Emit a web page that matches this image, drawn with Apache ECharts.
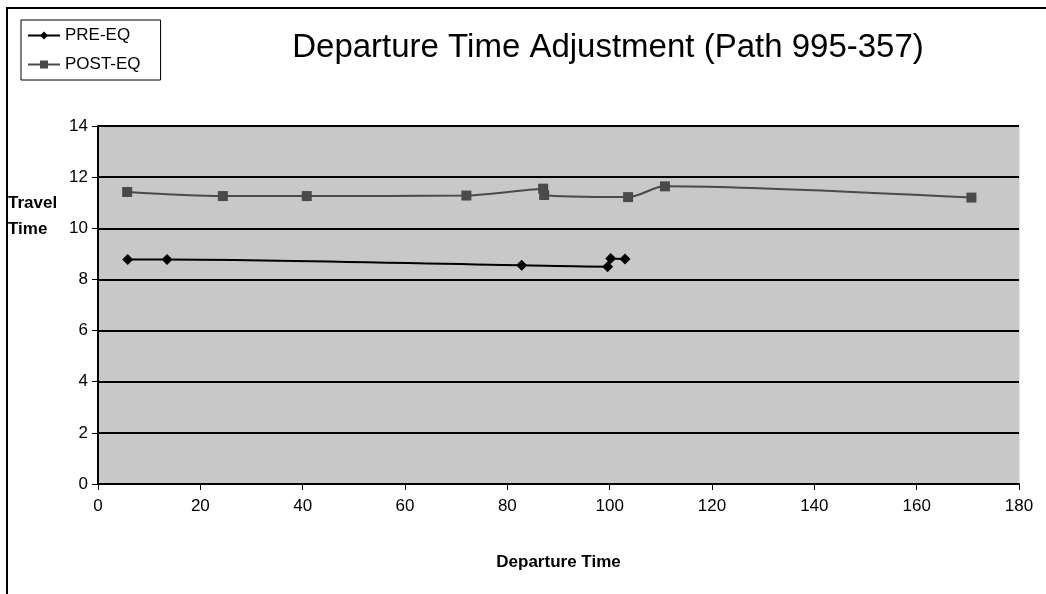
<!DOCTYPE html>
<html>
<head>
<meta charset="utf-8">
<script src="https://cdn.jsdelivr.net/npm/echarts@6/dist/echarts.min.js"></script>
<style>
  html, body { margin: 0; padding: 0; background: #fff; }
  #chart { width: 1046px; height: 594px; }
</style>
</head>
<body>
<div id="chart"></div>
<script>
// data
const preX = [5.8, 13.5, 82.8, 99.6, 100.2, 103.0];
const preY = [8.78, 8.78, 8.55, 8.5, 8.82, 8.8];
const postX = [5.7, 24.4, 40.8, 72.0, 87.0, 87.2, 103.6, 110.8, 170.7];
const postY = [11.42, 11.26, 11.26, 11.28, 11.55, 11.3, 11.22, 11.64, 11.2];
const xTicks = [0, 20, 40, 60, 80, 100, 120, 140, 160, 180];
const yTicks = [0, 2, 4, 6, 8, 10, 12, 14];

const toPairs = (xs, ys) => xs.map((x, i) => [x, ys[i]]);

var myChart = echarts.init(document.getElementById("chart"));

const labelFont = "Liberation Sans Narrow, Liberation Sans, Arial";

myChart.setOption({
  animation: false,
  title: {
    text: "Departure Time Adjustment (Path 995-357)",
    left: 603,
    top: 26,
    textAlign: "center",
    textStyle: {
      fontFamily: "Liberation Sans, Arial",
      fontSize: 33,
      fontWeight: "normal",
      color: "#000",
    },
  },
  legend: {
    orient: "vertical",
    left: 21,
    top: 20,
    padding: [7, 20, 7, 6],
    itemGap: 12,
    itemWidth: 32,
    itemHeight: 10,
    borderColor: "#000",
    borderWidth: 1,
    backgroundColor: "#fff",
    textStyle: { fontFamily: labelFont, fontSize: 17, color: "#000" },
    data: ["PRE-EQ", "POST-EQ"],
  },
  grid: {
    left: 98,
    right: 27,
    top: 126,
    bottom: 110,
    show: true,
    backgroundColor: "#c8c8c8",
    borderColor: "#c8c8c8",
  },
  xAxis: {
    type: "value",
    min: xTicks[0],
    max: xTicks[xTicks.length - 1],
    interval: 20,
    name: "Departure Time",
    nameLocation: "middle",
    nameGap: 70,
    nameTextStyle: {
      fontFamily: labelFont,
      fontSize: 17,
      fontWeight: "bold",
      color: "#000",
    },
    axisLine: { lineStyle: { color: "#000", width: 2 } },
    axisTick: { show: true, length: 6, lineStyle: { color: "#000" } },
    axisLabel: {
      fontFamily: labelFont,
      fontSize: 17,
      color: "#000",
      margin: 14,
    },
    splitLine: { show: false },
  },
  yAxis: {
    type: "value",
    min: yTicks[0],
    max: yTicks[yTicks.length - 1],
    interval: 2,
    axisLine: { show: true, lineStyle: { color: "#000", width: 2 } },
    axisTick: { show: true, length: 6, lineStyle: { color: "#000" } },
    axisLabel: {
      fontFamily: labelFont,
      fontSize: 17,
      color: "#000",
      margin: 10,
    },
    splitLine: { show: true, lineStyle: { color: "#000", width: 2 } },
  },
  graphic: [
    {
      type: "rect",
      shape: { x: 7, y: 8, width: 1200, height: 800 },
      style: { fill: null, stroke: "#000", lineWidth: 2 },
      z: -1,
    },
    {
      type: "text",
      left: 8,
      top: 190,
      style: {
        text: "Travel\nTime",
        fontFamily: labelFont,
        fontSize: 17,
        fontWeight: "bold",
        lineHeight: 26,
        fill: "#000",
      },
    },
  ],
  series: [
    {
      name: "PRE-EQ",
      type: "line",
      smooth: 0.3,
      data: toPairs(preX, preY),
      symbol: "diamond",
      symbolSize: 11,
      lineStyle: { color: "#000", width: 2 },
      itemStyle: { color: "#000" },
    },
    {
      name: "POST-EQ",
      type: "line",
      smooth: 0.3,
      data: toPairs(postX, postY),
      symbol: "rect",
      symbolSize: 10,
      lineStyle: { color: "#4a4a4a", width: 2 },
      itemStyle: { color: "#4a4a4a" },
    },
  ],
});
</script>
</body>
</html>
